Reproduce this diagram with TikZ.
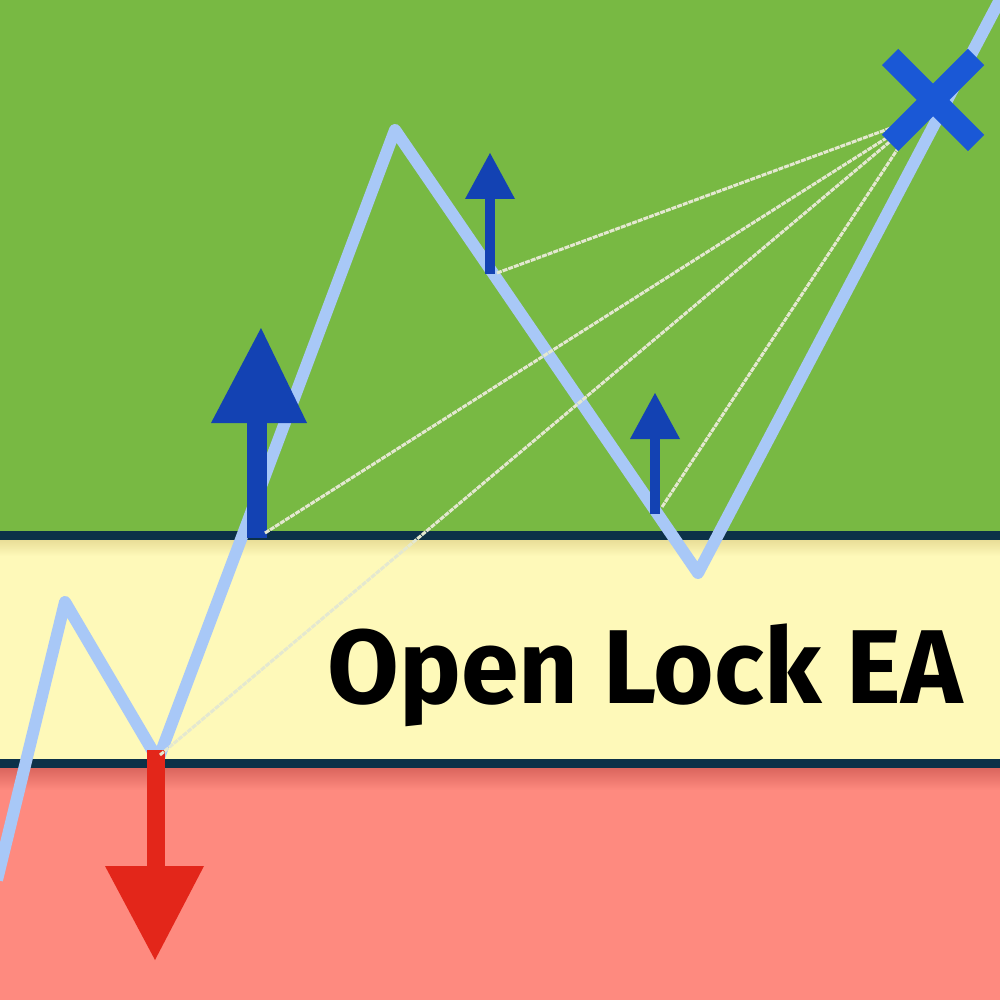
\documentclass[tikz,border=0pt]{standalone}
\usepackage{fontspec}
\setmainfont{Fira Sans}
\usetikzlibrary{calc}
\definecolor{bgreen}{HTML}{78B943}
\definecolor{byellow}{HTML}{FEF9B9}
\definecolor{byellowd}{HTML}{E9DE98}
\definecolor{bred}{HTML}{FE8A7F}
\definecolor{bredd}{HTML}{D9645C}
\definecolor{darkline}{HTML}{0C3148}
\definecolor{zig}{HTML}{A8C8F7}
\definecolor{upblue}{HTML}{1342B3}
\definecolor{xblue}{HTML}{1A58D6}
\definecolor{downred}{HTML}{E3261A}
\definecolor{guide}{HTML}{E4E8D0}
\begin{document}
\begin{tikzpicture}[x=1pt,y=-1pt,
  zigline/.style={draw=zig,line width=12pt,line join=round,line cap=butt},
  guideline/.style={draw=guide,line width=3pt,dash pattern=on 5pt off 1pt},
  bandline/.style={draw=darkline,line width=9pt},
  uparrow/.style={fill=upblue},
  xstroke/.style={draw=xblue,line width=23pt,line cap=butt}]
\useasboundingbox (0,0) rectangle (1000,1000);
% bands
\fill[bgreen] (0,0) rectangle (1000,536);
\fill[byellow] (0,536) rectangle (1000,763);
\fill[bred] (0,763) rectangle (1000,1000);
\shade[top color=byellowd,bottom color=byellow] (0,540) rectangle (1000,556);
\shade[top color=bredd,bottom color=bred] (0,767) rectangle (1000,790);
\draw[bandline] (0,535.5) -- (1000,535.5);
\draw[bandline] (0,763) -- (1000,763);
% zigzag path
\coordinate (z0) at (-3,880);
\coordinate (z1) at (65,602);
\coordinate (z2) at (158,760);
\coordinate (z3) at (395,130);
\coordinate (z4) at (698,573);
\coordinate (z5) at (1003,-6);
\draw[zigline] (z0) -- (z1) -- (z2) -- (z3) -- (z4) -- (z5);
% red down arrow
\fill[downred] (147,750) rectangle (165,868);
\fill[downred] (105,866) -- (204,866) -- (155,960) -- cycle;
% big up arrow
\fill[uparrow] (247,538) rectangle (267,420);
\fill[uparrow] (211,423) -- (307,423) -- (261,328) -- cycle;
% small up arrows
\fill[uparrow] (485,274) rectangle (495,196);
\fill[uparrow] (465,199) -- (515,199) -- (490,153) -- cycle;
\fill[uparrow] (650,514) rectangle (660,436);
\fill[uparrow] (630,439) -- (680,439) -- (655,393) -- cycle;
% guide lines to the X
\coordinate (xc) at (933,100);
\coordinate (t1) at (918,118);
\coordinate (a1) at (497,273);
\coordinate (a2) at (265,533);
\coordinate (a3) at (160,755);
\coordinate (a4) at (662,507);
\draw[guideline] (a1) -- (t1);
\draw[guideline] (a2) -- (t1);
\draw[guideline] (a3) -- (t1);
\draw[guideline] (a4) -- (t1);
% X mark
\draw[xstroke,rounded corners=2pt] ($(xc)+(-43,-43)$) -- ($(xc)+(43,43)$);
\draw[xstroke,rounded corners=2pt] ($(xc)+(43,-43)$) -- ($(xc)+(-43,43)$);
% title
\node[anchor=base west,inner sep=0pt,xscale=0.99] (title) at (327,703)
  {\fontsize{105}{105}\selectfont\bfseries Open Lock EA};
\end{tikzpicture}
\end{document}
